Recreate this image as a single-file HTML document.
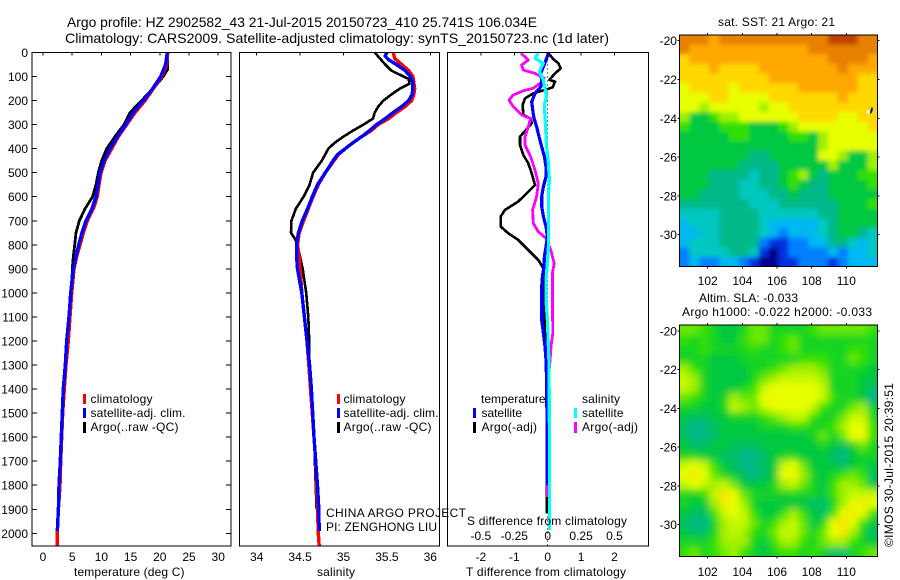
<!DOCTYPE html>
<html>
<head>
<meta charset="utf-8">
<title>Argo profile</title>
<style>
html,body{margin:0;padding:0;background:#fff;}
svg{display:block;font-family:"Liberation Sans",sans-serif;font-size:12px;fill:#000;}
text{fill:#000;}
</style>
</head>
<body>
<svg id="chart" xmlns="http://www.w3.org/2000/svg" width="900" height="580" viewBox="0 0 900 580">
<defs>
<filter id="blur-sst" x="-10%" y="-10%" width="120%" height="120%"><feGaussianBlur stdDeviation="2.4"/></filter>
<filter id="blur-sla" x="-10%" y="-10%" width="120%" height="120%"><feGaussianBlur stdDeviation="3.6"/></filter>
</defs>
<rect x="0" y="0" width="900" height="580" fill="#fff"/>
<text x="67" y="27" font-size="14" textLength="470" lengthAdjust="spacingAndGlyphs">Argo profile: HZ 2902582_43 21-Jul-2015 20150723_410 25.741S 106.034E</text>
<text x="65" y="43" font-size="14" textLength="544" lengthAdjust="spacingAndGlyphs">Climatology: CARS2009. Satellite-adjusted climatology: synTS_20150723.nc (1d later)</text>
<text x="74" y="576" textLength="110.5" lengthAdjust="spacing">temperature (deg C)</text>
<text x="317" y="576" textLength="38" lengthAdjust="spacing">salinity</text>
<text x="466" y="576" textLength="160" lengthAdjust="spacing">T difference from climatology</text>
<text x="718" y="26" textLength="117" lengthAdjust="spacing">sat. SST: 21 Argo: 21</text>
<text x="699" y="302" textLength="99" lengthAdjust="spacing">Altim. SLA: -0.033</text>
<text x="682" y="316" textLength="190" lengthAdjust="spacing">Argo h1000: -0.022 h2000: -0.033</text>
<text transform="translate(893,547) rotate(-90)" textLength="164" lengthAdjust="spacing">©IMOS 30-Jul-2015 20:39:51</text>
<g id="plots"></g>
<g id="overlay">
<text x="90.5" y="403" textLength="62" lengthAdjust="spacing">climatology</text>
<text x="90.5" y="417" textLength="95" lengthAdjust="spacing">satellite-adj. clim.</text>
<text x="90.5" y="431" textLength="88" lengthAdjust="spacing">Argo(..raw -QC)</text>
<text x="343.5" y="403" textLength="62" lengthAdjust="spacing">climatology</text>
<text x="343.5" y="417" textLength="95" lengthAdjust="spacing">satellite-adj. clim.</text>
<text x="343.5" y="431" textLength="88" lengthAdjust="spacing">Argo(..raw -QC)</text>
<text x="326" y="517" textLength="140" lengthAdjust="spacing">CHINA ARGO PROJECT</text>
<text x="326" y="531" textLength="111" lengthAdjust="spacing">PI: ZENGHONG LIU</text>
<text x="481" y="403" textLength="64.5" lengthAdjust="spacing">temperature</text>
<text x="481.5" y="417" textLength="40.5" lengthAdjust="spacing">satellite</text>
<text x="481.5" y="431" textLength="55.5" lengthAdjust="spacing">Argo(-adj)</text>
<text x="582" y="403" textLength="38" lengthAdjust="spacing">salinity</text>
<text x="582" y="417" textLength="41.5" lengthAdjust="spacing">satellite</text>
<text x="582" y="431" textLength="56" lengthAdjust="spacing">Argo(-adj)</text>
<text x="467" y="525" textLength="160" lengthAdjust="spacing">S difference from climatology</text>
<rect x="83" y="394" width="3" height="10" fill="#f00"/>
<rect x="83" y="408" width="3" height="10" fill="#00f"/>
<rect x="83" y="422" width="3" height="11" fill="#000"/>
<rect x="337" y="394" width="3" height="10" fill="#f00"/>
<rect x="337" y="408" width="3" height="10" fill="#00f"/>
<rect x="337" y="422" width="3" height="11" fill="#000"/>
<rect x="473" y="408" width="3" height="10" fill="#00f"/>
<rect x="473" y="422" width="3" height="11" fill="#000"/>
<rect x="574" y="408" width="3" height="10" fill="#0ff"/>
<rect x="574" y="422" width="3" height="11" fill="#f0f"/>
</g>
</svg>
<script>
/* ---------- tick labels ---------- */
const depthTicks = [0,100,200,300,400,500,600,700,800,900,1000,1100,1200,1300,1400,1500,1600,1700,1800,1900,2000];
const tempTicks = [0,5,10,15,20,25,30];
const salTicks = [34,34.5,35,35.5,36];
const tDiffTicks = [-2,-1,0,1,2];
const sDiffTicks = [-0.5,-0.25,0,0.25,0.5];
const lonTicks = [102,104,106,108,110];
const latTicks = [-20,-22,-24,-26,-28,-30];

/* ---------- temperature profiles ---------- */
const tempArgoDepth = [0,70,100,130,150,200,250,300,350,400,450,500,550,600,650,700,750,800,850,900,1000,1100,1200,1300,1400,1500,1600,1700,1800,1900];
const tempArgo = [21.35,21.35,20.6,19.58,18.78,16.89,14.9,13.87,12.33,10.9,10.05,9.47,9.08,8.5,7.19,6.22,5.65,5.42,5.19,5.02,4.91,4.51,4.22,3.88,3.6,3.37,3.2,2.91,2.74,2.63];
const tempClimDepth = [0,50,100,150,200,250,300,350,400,450,500,550,600,650,700,750,800,850,900,1000,1100,1200,1300,1400,1500,1600,1700,1800,1900,2000,2053];
const tempClim = [21.35,21.18,20.32,18.89,17.47,15.75,14.33,12.9,11.76,10.62,9.93,9.59,9.3,8.62,7.59,6.91,6.34,5.76,5.31,4.91,4.62,4.34,3.94,3.65,3.37,3.2,3.03,2.91,2.63,2.45,2.45];
const tempSatDepth = [0,50,100,150,200,250,300,350,400,450,500,550,600,650,700,750,800,850,900,1000,1100,1200,1300,1400,1500,1600,1700,1800,1900,1990];
const tempSat = [21.29,21.0,20.15,18.78,17.18,15.47,14.16,12.73,11.47,10.45,9.76,9.42,9.08,8.39,7.36,6.68,6.11,5.65,5.19,4.74,4.45,4.05,3.82,3.48,3.31,3.14,2.97,2.74,2.63,2.45];

/* ---------- salinity profiles ---------- */
const salArgoDepth = [0,25,50,75,100,110,130,150,175,200,225,250,275,300,325,350,375,400,450,500,550,600,650,700,750,775,800,850,900,1000,1100,1200,1300,1400,1500,1600,1700,1800,1900];
const salArgo = [35.36,35.42,35.48,35.55,35.69,35.75,35.76,35.65,35.55,35.46,35.40,35.36,35.34,35.23,35.11,35.0,34.9,34.825,34.75,34.65,34.61,34.54,34.45,34.40,34.395,34.44,34.47,34.5,34.53,34.57,34.595,34.605,34.60,34.62,34.65,34.665,34.67,34.68,34.69];
const salClimDepth = [0,25,50,75,100,125,150,175,200,225,250,275,300,325,350,375,400,425,450,500,550,600,650,700,750,800,850,900,950,1000,1100,1200,1300,1400,1500,1600,1700,1800,1900,2000,2053];
const salClim = [35.574,35.59,35.67,35.75,35.80,35.81,35.82,35.81,35.785,35.71,35.61,35.52,35.40,35.32,35.21,35.11,35.02,34.94,34.89,34.79,34.71,34.65,34.595,34.54,34.49,34.47,34.49,34.5,34.51,34.52,34.55,34.58,34.6,34.62,34.64,34.66,34.68,34.69,34.7,34.71,34.72];
const salSatDepth = [0,15,30,50,75,100,125,150,175,200,225,250,275,300,325,350,375,400,425,450,500,550,600,650,700,750,800,850,900,1000,1100,1200,1300,1400,1500,1600,1700,1800,1900,1990];
const salSat = [35.50,35.48,35.52,35.61,35.71,35.77,35.80,35.80,35.79,35.75,35.67,35.57,35.48,35.38,35.30,35.21,35.11,35.02,34.93,34.88,34.79,34.70,34.64,34.585,34.525,34.48,34.46,34.46,34.47,34.52,34.55,34.58,34.61,34.63,34.645,34.66,34.68,34.70,34.715,34.72];

/* ---------- difference profiles ---------- */
const dTSatDepth = [3,31,59,87,114,142,170,205,239,274,309,350,392,433,475,516,558,600,641,683,724,766,808,849,891,933,974,1030,1113,1168,1224,1279,1376,1570,1800];
const dTSat = [0.02,-0.05,-0.13,-0.21,-0.18,-0.2,-0.38,-0.48,-0.45,-0.41,-0.33,-0.26,-0.18,-0.1,-0.05,-0.05,-0.13,-0.18,-0.18,-0.13,-0.05,-0.01,-0.05,-0.1,-0.11,-0.16,-0.18,-0.18,-0.18,-0.13,-0.08,-0.05,-0.03,-0.02,-0.02];
const dTArgoDepth = [3,28,45,66,87,114,121,145,153,170,191,218,260,274,295,322,350,385,426,461,503,551,579,620,655,683,724,752,780,822,863,898,960,1030,1113,1168,1224,1293,1570,1917];
const dTArgo = [0.02,0.17,0.32,0.39,0.22,0.05,0.22,0.15,-0.03,-0.43,-0.68,-0.75,-0.73,-0.51,-0.48,-0.65,-0.83,-0.83,-0.73,-0.58,-0.48,-0.38,-0.58,-0.88,-1.28,-1.41,-1.41,-1.18,-0.88,-0.58,-0.28,-0.13,-0.08,-0.08,-0.08,-0.08,-0.05,-0.03,-0.03,-0.03];
const dSArgoDepth = [3,31,52,73,87,107,128,149,159,177,198,225,260,274,309,350,385,433,489,544,600,655,711,745,773,822,877,919,1030,1168,1224,1279,1362,1431,1709,1848];
const dSArgo = [-0.2,-0.145,-0.195,-0.183,-0.095,-0.028,-0.058,-0.108,-0.183,-0.258,-0.29,-0.258,-0.195,-0.128,-0.145,-0.17,-0.17,-0.128,-0.095,-0.07,-0.083,-0.113,-0.108,-0.07,-0.013,0.023,0.048,0.035,0.035,0.038,0.025,0.018,0.005,-0.002,-0.002,-0.002];
const dSSatDepth = [3,24,45,80,114,149,184,218,267,322,392,461,530,600,669,738,808,877,946,1030,1113,1293,1570,1986];
const dSSat = [-0.07,-0.095,-0.033,-0.063,-0.033,-0.02,-0.008,-0.025,-0.02,-0.015,-0.008,0.005,0.013,0.005,0.005,0.005,0.005,-0.002,-0.013,-0.013,-0.002,0.01,0.013,0.013];

/* ---------- SST map grid (colour-scale level, north to south) ---------- */
const sstMapLevels = [
[12,12,12,11,12,12,12,12,12,12,12,12,12,12,12,13,13,13,12,12],
[12,11,11,11,11,11,11,11,11,11,11,11,11,12,12,12,12,12,12,12],
[10,11,11,11,11,11,11,11,11,11,11,11,11,11,11,12,12,12,12,11],
[10,10,10,11,10,10,10,10,11,11,11,11,11,11,11,11,12,11,11,11],
[10,10,10,10,10,10,10,10,10,11,11,11,11,11,11,11,11,11,10,10],
[9,10,10,10,10,9,10,10,10,10,10,10,11,11,11,11,11,11,10,10],
[9,9,9,10,10,9,9,9,9,10,10,10,10,10,10,10,11,10,10,10],
[9,9,8,9,9,9,9,9,8,9,9,10,10,10,10,10,10,10,10,10],
[8,6,6,7,8,8,9,9,9,9,9,9,10,10,10,10,9,9,10,10],
[7,6,6,6,7,7,7,6,6,6,7,8,9,9,9,9,9,9,9,10],
[6,6,6,6,6,7,7,6,6,6,6,7,7,6,8,9,9,9,9,9],
[6,6,6,6,6,6,6,6,6,6,6,6,6,6,8,9,9,9,9,9],
[6,6,6,6,6,6,6,5,5,6,6,6,6,6,9,9,8,6,6,8],
[6,6,6,6,6,6,5,5,5,5,6,6,6,6,6,8,6,6,6,8],
[6,6,6,5,5,5,5,4,5,5,6,7,8,6,5,6,6,6,7,7],
[6,6,6,5,5,5,4,4,5,5,6,7,6,5,5,6,6,6,6,7],
[6,6,5,5,5,5,4,4,4,5,5,6,5,5,5,6,6,6,6,6],
[5,5,5,5,5,5,5,4,4,4,5,5,5,5,5,5,6,6,6,7],
[4,4,4,4,5,5,5,5,4,4,4,4,4,4,5,5,6,6,6,6],
[3,4,4,4,5,5,5,5,4,3,3,3,3,3,4,5,6,6,6,6],
[3,3,4,4,5,5,5,5,4,3,2,3,3,3,4,5,6,6,5,4],
[3,4,4,4,5,5,5,5,2,1,1,2,2,3,3,5,5,4,3,4],
[2,4,4,4,4,5,5,4,1,0,1,2,2,2,2,3,2,3,3,4],
[2,3,2,2,3,3,2,1,0,0,1,1,2,2,2,1,2,3,3,3]
];

/* ---------- SLA map grid (colour-scale level, north to south) ---------- */
const slaMapLevels = [
[7.5,7.5,7,6.5,6,6,6.5,7.5,7.5,6.5,6.5,6.5,6.5,7,7.5,7.5,7.5,7.5,7.5,7],
[7,6.5,7,6.5,6,6,7,7.5,7.5,6.5,7,7.5,6.5,6.5,6.5,6.5,6.5,6.5,6.5,6.5],
[6.5,6.5,7,6.5,6.5,6.5,6.5,7,6.5,6.5,7,7.5,6.5,6.5,6.5,6.5,6.5,7,7,6.5],
[6.5,6.5,6.5,6,6,6,6.5,6.5,6.5,6.5,6.5,6.5,7,7,7,6.5,6.5,7.5,7,6.5],
[8,7,6.5,6,6,6,6,6.5,6.5,7,7.5,8,8,8,7.5,6.5,6.5,6.5,6.5,6],
[8.5,8,6.5,6,6,6,6,6.5,7.5,8,8.5,8.5,8.5,8.5,8,6.5,6.5,6.5,6,6],
[8.5,8,6.5,6,6,6,6.5,7,8.5,9,9,9,9,9,8.5,6.5,6.5,6.5,6,5.5],
[7.5,7,6.5,6,6.5,8,7.5,7.5,9,9.2,9,9,9,9,8.5,7,6.5,6.5,6,5],
[6.5,6.5,6,6,6.5,8.5,8,7.5,8.5,9,9,9,9,8.5,7,6.5,6.5,7.5,8,6],
[6,5.5,5.5,6,6,6.5,6.5,6.5,7,7.5,8,8.5,8.5,7,6.5,6.5,7.5,8.5,8.5,6.5],
[5.5,5,5,5.5,6,6,6,6,6.5,6.5,6.5,7,7,6.5,6.5,7,8,9,9,7],
[5.5,5,5,5.5,6,6,6,6,6,6,6,6,6,6.5,7.5,6.5,7.5,9,9,7],
[6,5.5,5.5,6,6,5.5,5.5,5.5,6,6,6,6,6,6,6.5,6,5.5,6.5,7.5,6.5],
[6.5,6.5,6,6,5.5,5.5,5,5,5.5,6,6.5,6.5,6,6,6,5.5,5,6,6.5,6.5],
[8.5,9,8.5,7,6,5.5,5,5,5.5,6,8.5,9,7.5,6,6,6,5.5,6,6.5,6],
[9,9.5,9,7.5,6.5,6,5.5,5,5.5,6,9,9.2,8,6.5,6,6.5,7,7.5,7,5.5],
[8.5,9,8.5,8,8.5,7.5,6,6,6,6.5,8,8.5,7.5,6.5,6,7,8,8,7.5,6],
[6.5,6.5,7,8.5,9.7,9,7.5,6.5,6.5,6.5,6.5,6.5,6.5,6.5,6,7,8,8.5,8.5,8.5],
[6.5,6,6,8,9.5,9,8,6.5,6,6,6,6,6,5.5,5.5,6.5,8,9,9.5,9],
[6,5.5,5.5,7,8.5,9,8.5,7,6,6,7,8,7,6,5.5,7,9,9.5,9,7],
[5.5,5,5,6.5,8,8.5,8.5,7.5,6.5,7,8,8.5,7.5,6,6.5,9,9.8,9,7,6],
[6,5.5,5.5,6.5,8,8.5,8,7,6.5,7.5,8.5,8.5,7.5,6.5,7.5,9,9.5,8,6.5,5.5],
[6.5,6.5,6.5,7,8,8,8,6.5,6,7,8,8,7,6.5,7.5,8,8,7,6.5,6],
[7,7.5,6.5,7,7.5,8,7,6.5,6,6.5,7,7,6.5,7,6.5,5.5,5.5,6.5,7,7.5]
];

/* ---------- colour scale and drawing helpers ---------- */
const paletteStops = ['#00008c','#0030e0','#0080ff','#00b8f0','#00c8c0','#00b888','#00c840','#30e000','#a0f000','#e8ff00','#ffd800','#ffa800','#e88000','#c04000'];
const SVGNS = 'http://www.w3.org/2000/svg';
const plots = document.getElementById('plots');

function make(tag, attrs, parent) {
  const node = document.createElementNS(SVGNS, tag);
  for (const k in attrs) node.setAttribute(k, attrs[k]);
  (parent || plots).appendChild(node);
  return node;
}
function hexToRgb(h) {
  return [parseInt(h.slice(1,3),16), parseInt(h.slice(3,5),16), parseInt(h.slice(5,7),16)];
}
function levelColor(v) {
  const lo = Math.max(0, Math.min(paletteStops.length - 1, Math.floor(v)));
  const hi = Math.min(paletteStops.length - 1, lo + 1);
  const f = v - lo;
  const a = hexToRgb(paletteStops[lo]);
  const b = hexToRgb(paletteStops[hi]);
  return 'rgb(' + a.map((c, i) => Math.round(c + (b[i] - c) * f)).join(',') + ')';
}

/* axis functions */
const yDepth = d => 52.5 + d * 0.2404;
const xTemp = t => 43 + t * 5.84;
const xSal = s => 256.7 + (s - 34) * 86.8;
const xDT = t => 547.7 + t * 33.4;
const xDS = s => 547.7 + s * 133.6;
const xLon = lon => 707.7 + (lon - 102) * 17.33;
const yLatTop = lat => 40.7 + (-20 - lat) * 19.4;
const yLatBottom = lat => 331 + (-20 - lat) * 19.37;

function drawLine(depths, values, xFn, color, width, name) {
  const pts = depths.map((d, i) => xFn(values[i]).toFixed(1) + ',' + yDepth(d).toFixed(1)).join(' ');
  const el = make('polyline', {points: pts, fill: 'none', stroke: color, 'stroke-width': width, 'stroke-linejoin': 'round', 'shape-rendering': 'crispEdges'});
  
  
}
function drawTickMark(x1, y1, x2, y2, name) {
  const el = make('line', {x1: x1, y1: y1, x2: x2, y2: y2, stroke: '#000', 'stroke-width': 1, 'shape-rendering': 'crispEdges'});
  
  
}
function drawLabel(x, y, str, anchor, name) {
  const el = make('text', {x: x, y: y, 'text-anchor': anchor});
  el.textContent = str;
  
  
}
function drawFrame(x1, y1, x2, y2, name) {
  const el = make('rect', {x: x1, y: y1, width: x2 - x1, height: y2 - y1, fill: 'none', stroke: '#000', 'stroke-width': 1, 'shape-rendering': 'crispEdges'});
  
  
}
function drawMap(levels, x1, y1, x2, y2, filterId, name) {
  const clip = make('clipPath', {id: 'clip-' + name});
  make('rect', {x: x1, y: y1, width: x2 - x1, height: y2 - y1}, clip);
  const outer = make('g', {'clip-path': 'url(#clip-' + name + ')'});
  
  
  const inner = make('g', {filter: 'url(#' + filterId + ')'}, outer);
  const rows = levels.length;
  const cols = levels[0].length;
  const cw = (x2 - x1) / cols;
  const ch = (y2 - y1) / rows;
  const pad = 16;
  levels.forEach((row, r) => row.forEach((v, c) => {
    const left = x1 + c * cw - (c === 0 ? pad : 0);
    const top = y1 + r * ch - (r === 0 ? pad : 0);
    const w = cw + 0.6 + (c === 0 || c === cols - 1 ? pad : 0);
    const h = ch + 0.6 + (r === 0 || r === rows - 1 ? pad : 0);
    const cell = make('rect', {x: left.toFixed(2), y: top.toFixed(2), width: w.toFixed(2), height: h.toFixed(2), fill: levelColor(v)}, inner);
    
    
  }));
}

/* ---------- panel geometry ---------- */
const P1 = {l: 32, r: 231};
const P2 = {l: 239.5, r: 439.5};
const P3 = {l: 447.5, r: 648.5};
const TOP = 52.5;
const BOTTOM = 546;

/* panel 1: temperature */
drawLine(tempArgoDepth, tempArgo, xTemp, '#000', 2.8, 'temperature-argo-line');
drawLine(tempClimDepth, tempClim, xTemp, '#f00', 3.4, 'temperature-climatology-line');
drawLine(tempSatDepth, tempSat, xTemp, '#00f', 3.4, 'temperature-satellite-line');
depthTicks.forEach(d => {
  drawTickMark(P1.l, yDepth(d), P1.l + 5, yDepth(d), 'depth-tick-left');
  drawTickMark(P1.r - 5, yDepth(d), P1.r, yDepth(d), 'depth-tick-right');
  drawLabel(28, yDepth(d) + 4.5, String(d), 'end', 'depth-tick-label');
});
tempTicks.forEach(t => {
  drawTickMark(xTemp(t), TOP, xTemp(t), TOP + 3, 'temperature-tick');
  drawLabel(xTemp(t), 561, String(t), 'middle', 'temperature-tick-label');
});
drawFrame(P1.l, TOP, P1.r, BOTTOM, 'temperature-panel-frame');

/* panel 2: salinity */
drawLine(salArgoDepth, salArgo, xSal, '#000', 2.6, 'salinity-argo-line');
drawLine(salClimDepth, salClim, xSal, '#f00', 3.4, 'salinity-climatology-line');
drawLine(salSatDepth, salSat, xSal, '#00f', 3.4, 'salinity-satellite-line');
salTicks.forEach(s => {
  drawTickMark(xSal(s), TOP, xSal(s), TOP + 3, 'salinity-tick');
  drawLabel(xSal(s), 561, String(s), 'middle', 'salinity-tick-label');
});
drawFrame(P2.l, TOP, P2.r, BOTTOM, 'salinity-panel-frame');

/* panel 3: differences */
const zeroLine = make('line', {x1: xDT(0), y1: TOP, x2: xDT(0), y2: BOTTOM, stroke: '#000', 'stroke-width': 1, 'stroke-dasharray': '1 3', 'shape-rendering': 'crispEdges'});


drawLine(dTArgoDepth, dTArgo, xDT, '#000', 2.6, 'difference-t-argo-line');
drawLine(dSArgoDepth, dSArgo, xDS, '#f0f', 2.8, 'difference-s-argo-line');
drawLine(dTSatDepth, dTSat, xDT, '#00f', 3.2, 'difference-t-satellite-line');
drawLine(dSSatDepth, dSSat, xDS, '#0ff', 3.2, 'difference-s-satellite-line');
tDiffTicks.forEach(t => {
  drawTickMark(xDT(t), TOP, xDT(t), TOP + 3, 'difference-t-tick');
  drawLabel(xDT(t), 561, String(t), 'middle', 'difference-t-tick-label');
});
sDiffTicks.forEach(s => {
  drawLabel(xDS(s), 540, String(s), 'middle', 'difference-s-tick-label');
});
drawFrame(P3.l, TOP, P3.r, BOTTOM, 'difference-panel-frame');

/* maps */
const lonMin = 100.37, lonMax = 111.8, latMax = -19.7, latMin = -31.65;
function drawMapPanel(levels, yLat, labelBase, filterId, prefix) {
  const x1 = xLon(lonMin), x2 = xLon(lonMax), y1 = yLat(latMax), y2 = yLat(latMin);
  drawMap(levels, x1, y1, x2, y2, filterId, prefix + '-map');
  drawFrame(x1, y1, x2, y2, prefix + '-map-frame');
  lonTicks.forEach(lon => {
    drawTickMark(xLon(lon), y1 - 2, xLon(lon), y1, prefix + '-lon-tick-top');
    drawTickMark(xLon(lon), y2, xLon(lon), y2 + 2, prefix + '-lon-tick-bottom');
    drawLabel(xLon(lon), labelBase, String(lon), 'middle', prefix + '-lon-label');
  });
  latTicks.forEach(lat => {
    drawTickMark(x1 - 2, yLat(lat), x1, yLat(lat), prefix + '-lat-tick-left');
    drawTickMark(x2, yLat(lat), x2 + 2, yLat(lat), prefix + '-lat-tick-right');
    drawLabel(x1 - 2.5, yLat(lat) + 4.5, String(lat), 'end', prefix + '-lat-label');
  });
}
drawMapPanel(sstMapLevels, yLatTop, 285, 'blur-sst', 'sst');
drawMapPanel(slaMapLevels, yLatBottom, 576, 'blur-sla', 'sla');

const floatLon = [111.35];
const floatLat = [-23.65];
const fx = xLon(floatLon[0]);
const fy = yLatTop(floatLat[0]);
const floatMark = make('polygon', {points: [fx, fy + 2, fx + 1.5, fy - 4, fx + 3, fy - 4, fx + 3, fy - 1, fx + 1.5, fy + 2].join(' '), fill: '#001a8c'});


const floatDot = make('rect', {x: fx - 3, y: fy - 1, width: 3, height: 3, fill: '#fff'});



/* keep legend and annotation text above the plotted lines */
document.getElementById('chart').appendChild(document.getElementById('overlay'));
</script>
</body>
</html>
